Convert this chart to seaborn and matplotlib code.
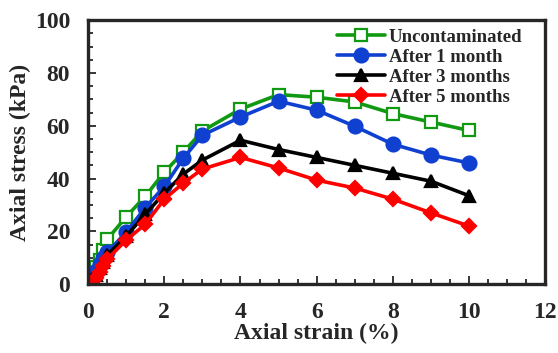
import matplotlib
matplotlib.use("Agg")
import matplotlib.pyplot as plt
import pandas as pd
import seaborn as sns
from matplotlib.ticker import MultipleLocator

# strain (%) shared by all series
strain = [0, 0.1, 0.2, 0.3, 0.4, 0.5, 1, 1.5, 2, 2.5, 3, 4, 5, 6, 7, 8, 9, 10]

# axial stress (kPa)
uncontaminated = [0, 3, 6.5, 9, 13, 17, 25.5, 33.3, 42.4, 50, 58, 66.3, 71.8, 70.8, 69, 64.6, 61.4, 58.2]
after_1_month = [0, 2.5, 5, 7.5, 10, 12, 19.7, 29, 37, 47.7, 56.4, 63.3, 69.3, 65.9, 59.8, 53, 48.9, 45.9]
after_3_months = [0, 2, 3.5, 6, 8.5, 11, 18.2, 26.5, 34.5, 41.7, 47, 54.5, 51, 48, 45, 42, 39, 33.5]
after_5_months = [0, 1, 2.5, 4.5, 7, 9.5, 16.7, 22.7, 32.2, 38.3, 43.6, 48, 44, 39.4, 36.4, 32.2, 27, 22]

labels = ["Uncontaminated", "After 1 month", "After 3 months", "After 5 months"]
series = [uncontaminated, after_1_month, after_3_months, after_5_months]
colors = ["#119911", "#1040D0", "#000000", "#FF0000"]
markers = ["s", "o", "^", "D"]
msizes = [9, 10, 9, 7]

sns.set_style("ticks")
plt.rcParams["font.family"] = ["Liberation Serif", "DejaVu Serif"]
plt.rcParams["font.weight"] = "bold"

fig = plt.figure(figsize=(5.58, 3.53), dpi=100)
ax = fig.add_axes([0.158, 0.195, 0.819, 0.748])

for lab, vals, c, m, ms in zip(labels, series, colors, markers, msizes):
    df = pd.DataFrame({"strain": strain, "stress": vals})
    face = "white" if m == "s" else c
    sns.lineplot(data=df, x="strain", y="stress", ax=ax, color=c, linewidth=2.6,
                 marker=m, markersize=ms, markerfacecolor=face, markeredgecolor=c,
                 markeredgewidth=1.6, label=lab, sort=False)

ax.set_xlim(0, 12)
ax.set_ylim(0, 100)
ax.xaxis.set_major_locator(MultipleLocator(2))
ax.xaxis.set_minor_locator(MultipleLocator(0.5))
ax.yaxis.set_major_locator(MultipleLocator(20))
ax.yaxis.set_minor_locator(MultipleLocator(5))
ax.tick_params(which="both", direction="in", width=1.3, labelsize=17)
ax.tick_params(axis="y", pad=13)
ax.tick_params(axis="x", pad=13)
ax.tick_params(which="major", length=6)
ax.tick_params(which="minor", length=3.5)
for lbl in ax.get_xticklabels() + ax.get_yticklabels():
    lbl.set_fontweight("bold")
for sp in ax.spines.values():
    sp.set_linewidth(2.4)
    sp.set_visible(True)

ax.set_xlabel("Axial strain (%)", fontsize=17, fontweight="bold", labelpad=0)
ax.set_ylabel("Axial stress (kPa)", fontsize=17, fontweight="bold", labelpad=3)

leg = ax.legend(loc="upper left", bbox_to_anchor=(329 / 558, 1 - 21 / 353),
                bbox_transform=fig.transFigure, frameon=False, borderaxespad=0,
                handlelength=2.6, handletextpad=0.2, labelspacing=0.16,
                prop={"weight": "bold", "size": 13.5})

fig.savefig("out.png", dpi=100)
